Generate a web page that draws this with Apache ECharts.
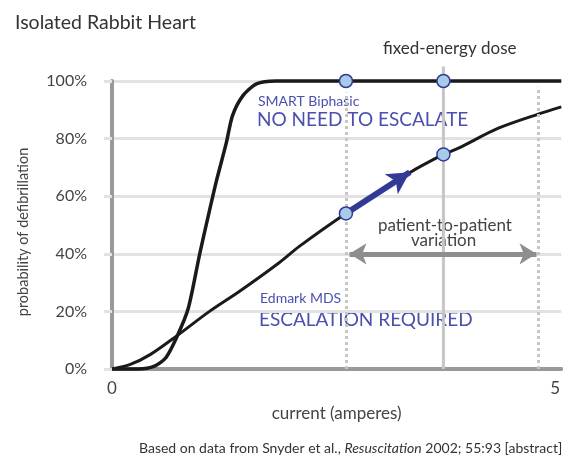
<!DOCTYPE html>
<html>
<head>
<meta charset="utf-8">
<script src="https://cdn.jsdelivr.net/npm/echarts@6/dist/echarts.min.js"></script>
<style>
html, body { margin: 0; padding: 0; background: #fff; }
#main { width: 563px; height: 460px; }
</style>
</head>
<body>
<div id="main"></div>
<script>
// values: current in amperes, probability in %
var smartCurve = [[0, 0], [0.3, 0], [0.48, 1], [0.61, 4], [0.73, 11], [0.86, 21], [0.99, 40], [1.1, 55],
  [1.18, 65.5], [1.29, 78.5], [1.36, 88], [1.48, 95], [1.63, 99], [1.85, 100], [5.07, 100]]
var edmarkCurve = [[0, 0], [0.2, 1.5], [0.43, 5], [0.73, 11.5], [1.1, 20], [1.44, 27], [1.89, 37], [2.11, 42.5],
  [2.64, 54], [3.35, 68], [3.74, 74.5], [3.91, 76.7], [4.36, 83.6], [4.81, 88.5], [5.07, 91]]
var dosePoints = [[2.64, 100], [3.74, 100], [2.64, 54], [3.74, 74.5]]
var dottedX = [2.64, 4.81]
var fixedDoseX = 3.74
var escalateArrow = [[2.64, 54], [3.36, 68.3]]
var variationArrow = [[2.68, 40], [4.79, 40]]
var xTickLabels = ['0', '5']
var yTicks = [0, 20, 40, 60, 80, 100]

var font = 'Lato, "Open Sans", sans-serif'
var blue = '#4a50ae'

var chart = echarts.init(document.getElementById('main'), null, {renderer: 'canvas'})

var option = {
  animation: false,
  title: {
    text: 'Isolated Rabbit Heart',
    left: 10, top: 8,
    textStyle: {fontFamily: font, fontWeight: 'normal', fontSize: 19.5, color: '#333'}
  },
  grid: {left: 112, right: 0, top: 81, bottom: 91, containLabel: false},
  xAxis: {
    type: 'value', min: 0, max: 5.07, interval: 1,
    name: 'current (amperes)', nameLocation: 'middle', nameGap: 36,
    nameTextStyle: {fontFamily: font, fontSize: 17, color: '#444'},
    axisLine: {show: true, lineStyle: {color: '#999', width: 4}},
    axisTick: {show: false},
    splitLine: {show: false},
    axisLabel: {
      fontFamily: font, fontSize: 17, color: '#444', margin: 11,
      showMaxLabel: false,
      formatter: function (v) {
        if (v === 0) return xTickLabels[0]
        if (v === 5) return xTickLabels[1]
        return ''
      }
    }
  },
  yAxis: {
    type: 'value', min: yTicks[0], max: yTicks[yTicks.length - 1], interval: 20,
    name: 'probability of defibrillation', nameLocation: 'middle', nameGap: 81,
    nameTextStyle: {fontFamily: font, fontSize: 14.5, color: '#444', padding: [0, 14, 0, 0]},
    axisLine: {show: true, lineStyle: {color: '#999', width: 4}},
    axisTick: {show: true, length: 8, lineStyle: {color: '#e2e2e2', width: 3}},
    splitLine: {show: true, lineStyle: {color: '#e2e2e2', width: 3}},
    axisLabel: {fontFamily: font, fontSize: 16, color: '#444', margin: 25, formatter: '{value}%'}
  },
  series: [
    {
      // dotted guide lines
      type: 'line', data: [], silent: true, z: 1,
      markLine: {
        silent: true, symbol: 'none', animation: false,
        label: {show: false},
        lineStyle: {type: [3, 3], width: 3, color: '#c6c6c6'},
        data: [
          [{coord: [dottedX[0], 0]}, {coord: [dottedX[0], 96]}],
          [{coord: [dottedX[1], 0]}, {coord: [dottedX[1], 98]}]
        ]
      }
    },
    {
      type: 'line', data: [[fixedDoseX, 0], [fixedDoseX, 105]], clip: false, z: 1,
      symbol: 'none', silent: true,
      lineStyle: {color: '#c6c6c6', width: 3}
    },
    {
      type: 'line', name: 'SMART Biphasic', data: smartCurve, smooth: 0.25, symbol: 'none', z: 3,
      lineStyle: {color: '#1a1a1a', width: 3.5}, clip: false
    },
    {
      type: 'line', name: 'Edmark MDS', data: edmarkCurve, smooth: 0.3, symbol: 'none', z: 3,
      lineStyle: {color: '#1a1a1a', width: 3}, clip: false
    },
    {
      // escalation arrow
      type: 'line', data: [], z: 4, silent: true,
      markLine: {
        silent: true, animation: false, label: {show: false},
        symbol: ['none', 'arrow'], symbolSize: [18, 22],
        lineStyle: {type: 'solid', color: '#323a96', width: 6},
        data: [[{coord: escalateArrow[0]}, {coord: escalateArrow[1]}]]
      }
    },
    {
      // patient-to-patient variation arrow
      type: 'line', data: [], z: 4, silent: true,
      markLine: {
        silent: true, animation: false, label: {show: false},
        symbol: ['arrow', 'arrow'], symbolSize: [16, 17],
        lineStyle: {type: 'solid', color: '#8e8e90', width: 5},
        data: [[{coord: variationArrow[0]}, {coord: variationArrow[1]}]]
      }
    },
    {
      type: 'scatter', data: dosePoints, z: 5, symbolSize: 13,
      itemStyle: {color: '#a9cbea', borderColor: '#2f3b96', borderWidth: 1.5, opacity: 1}
    }
  ],
  graphic: [
    {type: 'text', left: 383, top: 40, style: {text: 'fixed-energy dose', font: '17px ' + font, fill: '#333'}},
    {type: 'text', left: 258, top: 94, style: {text: 'SMART Biphasic', font: '14px ' + font, fill: blue}},
    {type: 'text', left: 257, top: 110, style: {text: 'NO NEED TO ESCALATE', font: '19px ' + font, fill: blue}},
    {type: 'text', left: 260, top: 291, style: {text: 'Edmark MDS', font: '14px ' + font, fill: blue}},
    {type: 'text', left: 259, top: 310, style: {text: 'ESCALATION REQUIRED', font: '19px ' + font, fill: blue}},
    {type: 'text', left: 378, top: 217, style: {text: 'patient-to-patient', font: '17px ' + font, fill: '#444'}},
    {type: 'text', left: 411, top: 232, style: {text: 'variation', font: '17px ' + font, fill: '#444'}},
    {
      type: 'text', left: 139, top: 441,
      style: {
        text: '{a|Based on data from Snyder et al., }{b|Resuscitation}{a| 2002; 55:93 [abstract]}',
        rich: {
          a: {fontFamily: font, fontSize: 14, fill: '#333', color: '#333'},
          b: {fontFamily: font, fontSize: 14, fontStyle: 'italic', fill: '#333', color: '#333'}
        }
      }
    }
  ]
}

chart.setOption(option)
</script>
</body>
</html>
